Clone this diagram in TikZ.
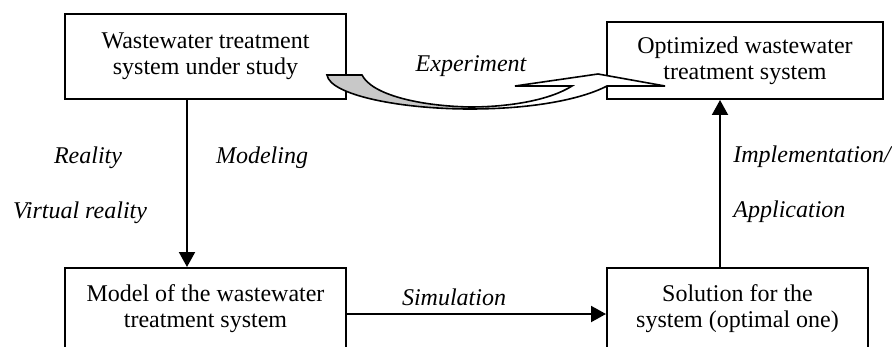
\documentclass[tikz,border=0pt]{standalone}
\usepackage{fontspec}
\setmainfont{Liberation Serif}
\usetikzlibrary{arrows.meta,calc,positioning}
\definecolor{foldGray}{HTML}{C8C8C8}
\tikzset{
  font=\fontsize{12pt}{13pt}\selectfont,
  arrow/.style={-{Triangle[length=7.5pt,width=8pt]}, draw=black, line width=1pt},
  stage/.style={rectangle, draw=black, line width=1pt, fill=white, inner sep=0pt, align=center},
  flowLabel/.style={font=\fontsize{12pt}{13pt}\selectfont\itshape, inner sep=0pt},
  ribbon/.style={draw=black, line width=0.8pt, line join=miter}
}

\begin{document}
\begin{tikzpicture}[x=0.5pt,y=-0.5pt]
\useasboundingbox (0,0) rectangle (892,347);
\clip (0,0) rectangle (892,347);

% --------------------------------------------------------------------------
% Stages
% --------------------------------------------------------------------------
\node[stage, minimum width=140.5pt, minimum height=42.5pt] (sys) at (205.5,56.5) {Wastewater treatment\\system under study};
\node[stage, minimum width=138pt, minimum height=38.5pt] (opt) at (745,60.5) {Optimized wastewater\\treatment system};
\node[stage, minimum width=140.5pt, minimum height=40.5pt] (model) at (205.5,308.5) {Model of the wastewater\\treatment system};
\node[stage, minimum width=130.5pt, minimum height=40.5pt] (sol) at (737.5,308.5) {Solution for the\\system (optimal one)};

% --------------------------------------------------------------------------
% Experiment ribbon
% --------------------------------------------------------------------------
\fill[white] (327,75) -- (362,75)
  .. controls (372,95) and (420,106) .. (470,107)
  .. controls (510,107) and (550,100) .. (572,86)
  -- (515,86) -- (598,74) -- (665,86) -- (607,86)
  .. controls (580,100) and (530,109) .. (470,109)
  .. controls (400,109) and (330,95) .. (327,75) -- cycle;
\fill[foldGray] (327,75) -- (362,75)
  .. controls (372,95) and (420,106) .. (470,107)
  -- (470,109)
  .. controls (400,109) and (330,95) .. (327,75) -- cycle;
\draw[ribbon] (327,75) -- (362,75)
  .. controls (372,95) and (420,106) .. (470,107)
  .. controls (510,107) and (550,100) .. (572,86)
  -- (515,86) -- (598,74) -- (665,86) -- (607,86)
  .. controls (580,100) and (530,109) .. (470,109)
  .. controls (400,109) and (330,95) .. (327,75) -- cycle;
\node[flowLabel] (expLbl) at (471,66) {Experiment};

% --------------------------------------------------------------------------
% Connectors
% --------------------------------------------------------------------------
\draw[arrow] ([xshift=-9.25pt]sys.south) -- ([xshift=-9.25pt]model.north);
\node[flowLabel] (realLbl) at (88,158) {Reality};
\node[flowLabel] (modLbl) at (262,158) {Modeling};
\node[flowLabel] (virtLbl) at (80,213) {Virtual reality};

\draw[arrow] ([yshift=-2.75pt]model.east) -- ([yshift=-2.75pt]model.east -| sol.west);
\node[flowLabel] (simLbl) at (454,297) {Simulation};

\draw[arrow] ([xshift=-8.75pt]sol.north) -- ([xshift=-8.75pt]sol.north |- opt.south);
\node[flowLabel, anchor=west] (implLbl) at (733,157) {Implementation/};
\node[flowLabel, anchor=west] (appLbl) at (733,212) {Application};

\end{tikzpicture}
\end{document}
